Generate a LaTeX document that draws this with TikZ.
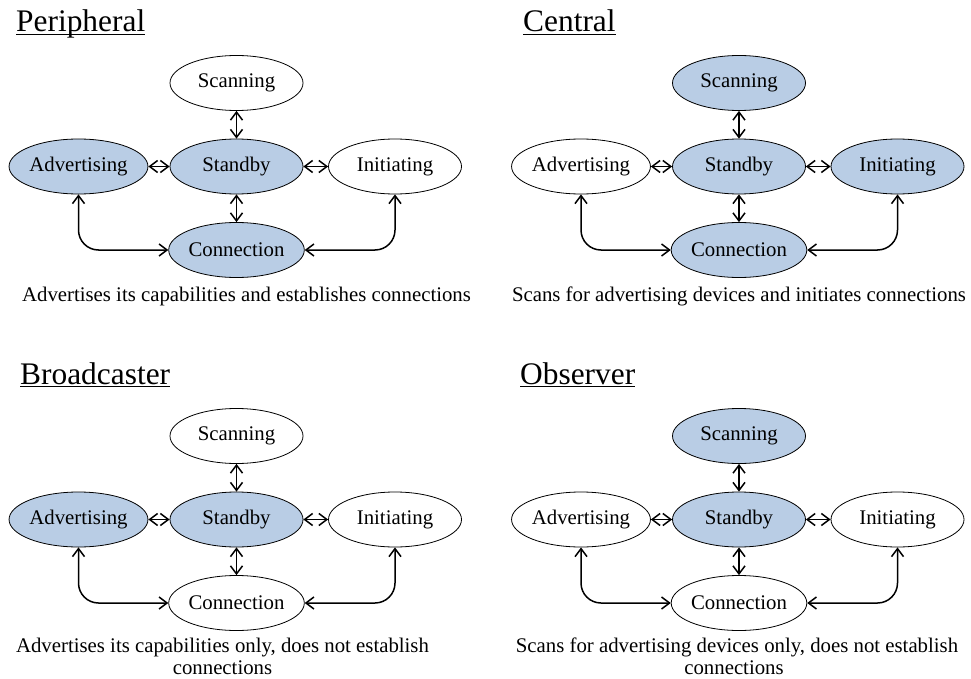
\documentclass[tikz,border=0pt]{standalone}
\usepackage{fontspec}
\setmainfont{Liberation Serif}
\usetikzlibrary{shapes.geometric,arrows.meta}
\definecolor{stfill}{RGB}{185,205,229}
\newcommand{\nodefont}{\fontsize{20.8}{24}\selectfont}
\newcommand{\titlefont}{\fontsize{31.4}{36}\selectfont}
\tikzset{
  state/.style={ellipse, draw, line width=0.8pt, minimum width=133pt, minimum height=55pt, inner sep=0pt, font=\nodefont},
  arr/.style={line width=1.5pt, {Straight Barb[length=8pt,width=12pt]}-{Straight Barb[length=8pt,width=12pt]}},
  title/.style={anchor=base west, inner sep=0pt, font=\titlefont},
  caption/.style={anchor=base, inner sep=0pt, font=\nodefont, align=center},
  uline/.style={line width=1.1pt}
}
% #1 prefix, #2 xshift, #3 yshift, #4 scan fill, #5 adv fill, #6 ini fill, #7 con fill
\newcommand{\blepanel}[7]{%
  \begin{scope}[shift={(#2,#3)}]
    \node[state, fill=#4] (#1-scan) at (236.5,83) {Scanning};
    \node[state, fill=stfill] (#1-sb) at (236.5,166.5) {Standby};
    \node[state, fill=#5] (#1-adv) at (78.5,166.5) {Advertising};
    \node[state, fill=#6] (#1-ini) at (395,166.5) {Initiating};
    \node[state, fill=#7] (#1-con) at (236.5,250) {Connection};
    \draw[arr] (#1-adv) -- (#1-sb);
    \draw[arr] (#1-sb) -- (#1-ini);
    \draw[arr] (#1-scan) -- (#1-sb);
    \draw[arr] (#1-sb) -- (#1-con);
    \draw[arr, rounded corners=20pt] (#1-adv.south) |- (#1-con.west);
    \draw[arr, rounded corners=20pt] (#1-ini.south) |- (#1-con.east);
  \end{scope}%
}
\begin{document}
\begin{tikzpicture}[x=1pt,y=-1pt]
  \useasboundingbox (0,0) rectangle (971,679);
  % Titles
  \node[title] (t1) at (16,32) {Peripheral};
  \node[title] (t2) at (523,32) {Central};
  \node[title] (t3) at (20,384) {Broadcaster};
  \node[title] (t4) at (520,384) {Observer};
  \foreach \t in {t1,t2,t3,t4}{
    \draw[uline] ([yshift=-2.6pt]\t.base west) -- ([yshift=-2.6pt]\t.base east);
  }
  % Panels
  \blepanel{p}{0}{0}{white}{stfill}{white}{stfill}
  \blepanel{c}{502.5}{0}{stfill}{white}{stfill}{stfill}
  \blepanel{b}{0}{353}{white}{stfill}{white}{white}
  \blepanel{o}{502.5}{353}{stfill}{white}{white}{white}
  % Captions
  \node[caption] (cap1) at (246.5,301) {Advertises its capabilities and establishes connections};
  \node[caption] (cap2) at (739,301) {Scans for advertising devices and initiates connections};
  \node[caption] (cap3a) at (222.5,652) {Advertises its capabilities only, does not establish};
  \node[caption] (cap3b) at (222.5,674) {connections};
  \node[caption] (cap4a) at (737,652) {Scans for advertising devices only, does not establish};
  \node[caption] (cap4b) at (734,674) {connections};
\end{tikzpicture}
\end{document}
